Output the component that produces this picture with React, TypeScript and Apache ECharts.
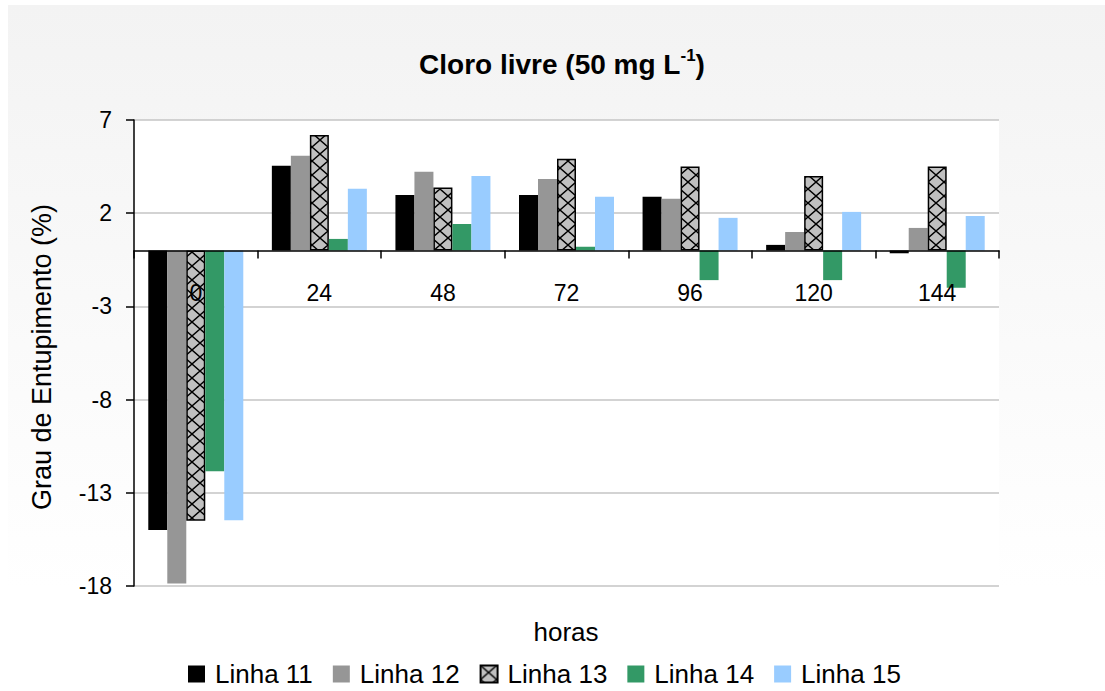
import React, { useEffect, useRef } from "react";
import * as echarts from "echarts";

const categories = ["0", "24", "48", "72", "96", "120", "144"];
const linha11 = [-15.0, 4.54, 2.98, 2.98, 2.88, 0.3, -0.15];
const linha12 = [-17.86, 5.08, 4.22, 3.84, 2.77, 0.99, 1.21];
const linha13 = [-14.5, 6.19, 3.38, 4.92, 4.5, 3.99, 4.5];
const linha14 = [-11.84, 0.62, 1.42, 0.2, -1.59, -1.59, -2.0];
const linha15 = [-14.47, 3.31, 4.0, 2.88, 1.75, 2.07, 1.85];
const seriesNames = ["Linha 11", "Linha 12", "Linha 13", "Linha 14", "Linha 15"];
const yTicks = { min: -18, max: 7, interval: 5 };

const FONT = "'Liberation Sans', Arial, sans-serif";

const GRID_TOP = 120;
const GRID_BOTTOM = 105;
const CHART_H = 691;
const HATCH_W = 16;
const HATCH_H = 14;

function makeHatch(): HTMLCanvasElement {
  const w = HATCH_W;
  const h = HATCH_H;
  const c = document.createElement("canvas");
  c.width = w;
  c.height = h;
  const ctx = c.getContext("2d")!;
  ctx.fillStyle = "#c0c0c0";
  ctx.fillRect(0, 0, w, h);
  ctx.strokeStyle = "#000";
  ctx.lineWidth = 1.4;
  ctx.beginPath();
  ctx.moveTo(0, 0);
  ctx.lineTo(w, h);
  ctx.moveTo(w, 0);
  ctx.lineTo(0, h);
  ctx.stroke();
  return c;
}

export default function App() {
  const ref = useRef<HTMLDivElement>(null);
  useEffect(() => {
    if (!ref.current) return;
    const chart = echarts.init(ref.current, undefined, { renderer: "svg" });
    const hatch = makeHatch();
    const data = [linha11, linha12, linha13, linha14, linha15];
    const colors: any[] = [
      "#000000",
      "#969696",
      { image: hatch, repeat: "repeat", imageWidth: HATCH_W, imageHeight: HATCH_H },
      "#339966",
      "#99ccff",
    ];
    // place the category axis at the zero line of the value axis
    const plotH = CHART_H - GRID_TOP - GRID_BOTTOM;
    const zeroY = GRID_TOP + (yTicks.max / (yTicks.max - yTicks.min)) * plotH;
    const xOffset = -((CHART_H - GRID_BOTTOM) - zeroY);
    chart.setOption({
      animation: false,
      textStyle: { fontFamily: FONT, color: "#000" },
      graphic: [
        {
          type: "rect",
          z: -10,
          silent: true,
          shape: { x: 8, y: 5, width: 1097, height: 686 },
          style: {
            fill: new echarts.graphic.LinearGradient(0, 0, 0, 1, [
              { offset: 0, color: "#f3f3f3" },
              { offset: 0.85, color: "#ffffff" },
              { offset: 1, color: "#ffffff" },
            ]),
          },
        },
        {
          type: "text",
          x: 562,
          y: 64,
          style: {
            text: "{a|Cloro livre (50 mg L}{b|-1}{a|)}",
            align: "center",
            verticalAlign: "middle",
            rich: {
              a: { fontSize: 28, fontWeight: "bold", fontFamily: FONT, lineHeight: 34, verticalAlign: "middle", fill: "#000" },
              b: { fontSize: 17, fontWeight: "bold", fontFamily: FONT, lineHeight: 34, verticalAlign: "top", fill: "#000" },
            },
          },
        },
        {
          type: "text",
          x: 566,
          y: 632,
          style: { text: "horas", fontSize: 26, fontFamily: FONT, fill: "#000", align: "center", verticalAlign: "middle" },
        },
        {
          type: "text",
          x: 42,
          y: 357,
          rotation: Math.PI / 2,
          style: { text: "Grau de Entupimento (%)", fontSize: 27, fontFamily: FONT, fill: "#000", align: "center", verticalAlign: "middle" },
        },
      ],
      grid: {
        left: 134,
        right: 106,
        top: GRID_TOP,
        bottom: GRID_BOTTOM,
        show: true,
        backgroundColor: "#ffffff",
        borderWidth: 0,
      },
      legend: {
        left: 188,
        top: 661,
        padding: 0,
        itemWidth: 17,
        itemHeight: 17,
        itemGap: 20,
        icon: "rect",
        data: seriesNames,
        textStyle: { fontSize: 26, fontFamily: FONT, color: "#000", padding: [0, 0, 0, 5] },
      },
      xAxis: {
        type: "category",
        data: categories,
        z: 10,
        offset: xOffset,
        axisLine: { onZero: false, lineStyle: { color: "#000", width: 1.5 } },
        axisTick: { show: true, length: 8, alignWithLabel: false, lineStyle: { color: "#000", width: 1.5 } },
        axisLabel: { fontSize: 23, fontFamily: FONT, color: "#000", margin: 31 },
        splitLine: { show: false },
      },
      yAxis: {
        type: "value",
        min: yTicks.min,
        max: yTicks.max,
        interval: yTicks.interval,
        axisLine: { show: true, lineStyle: { color: "#000", width: 1.5 } },
        axisTick: { show: true, length: 8, lineStyle: { color: "#000", width: 1.5 } },
        axisLabel: { fontSize: 23, fontFamily: FONT, color: "#000", margin: 22 },
        splitLine: { show: true, lineStyle: { color: "#c4c4c4", width: 1.5 } },
      },
      series: seriesNames.map((name, i) => ({
        name,
        type: "bar",
        data: data[i],
        barWidth: 19,
        barGap: "0%",
        itemStyle:
          i === 2
            ? { color: colors[i], borderColor: "#000", borderWidth: 1.5 }
            : { color: colors[i] },
      })),
    });
    return () => chart.dispose();
  }, []);
  return (
    <div
      ref={ref}
      style={{ position: "absolute", left: 0, top: 0, width: 1105, height: 691 }}
    />
  );
}
